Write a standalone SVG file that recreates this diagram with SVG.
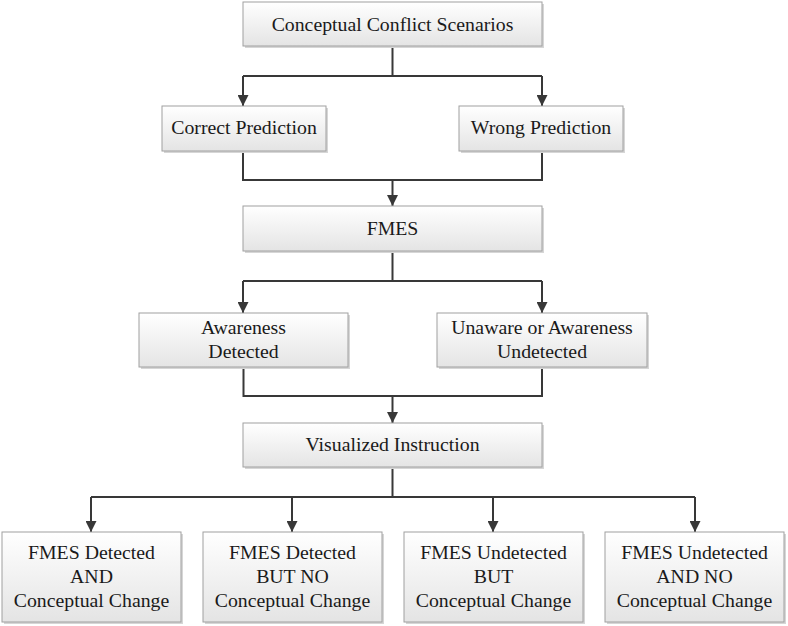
<svg xmlns="http://www.w3.org/2000/svg" width="788" height="626" viewBox="0 0 788 626">
<style>
.box{fill:url(#g);stroke:#a0a0a0;stroke-width:1}
.sh{fill:#d6d6d6}
.t{font-family:"Liberation Serif","Times New Roman",serif;font-size:19.8px;fill:#1a1a1a;text-anchor:middle}
.c{fill:none;stroke:#383838;stroke-width:2}
</style>
<defs>
<linearGradient id="g" x1="0" y1="0" x2="0" y2="1">
<stop offset="0" stop-color="#ffffff"/>
<stop offset="1" stop-color="#e4e4e4"/>
</linearGradient>
<marker id="a" markerWidth="12" markerHeight="11" refX="11" refY="5.5" orient="auto" markerUnits="userSpaceOnUse">
<path d="M0,0 L11,5.5 L0,11 z" fill="#383838"/>
</marker>
</defs>
<rect width="788" height="626" fill="#fff"/>
<g id="connectors">
<path class="c" d="M392.5,46 V76 M243,76 H542" />
<path class="c" d="M243,76 V106" marker-end="url(#a)"/>
<path class="c" d="M542,76 V106" marker-end="url(#a)"/>
<path class="c" d="M243,151 V180 H542 V151"/>
<path class="c" d="M392.5,180 V206" marker-end="url(#a)"/>
<path class="c" d="M392.5,251 V281 M243,281 H542"/>
<path class="c" d="M243,281 V313" marker-end="url(#a)"/>
<path class="c" d="M542,281 V313" marker-end="url(#a)"/>
<path class="c" d="M243.5,367 V396 H542 V367"/>
<path class="c" d="M392.5,396 V423" marker-end="url(#a)"/>
<path class="c" d="M392.5,467 V497 M91,497 H695"/>
<path class="c" d="M91,497 V532" marker-end="url(#a)"/>
<path class="c" d="M292,497 V532" marker-end="url(#a)"/>
<path class="c" d="M493,497 V532" marker-end="url(#a)"/>
<path class="c" d="M695,497 V532" marker-end="url(#a)"/>
</g>
<g id="n1"><rect class="sh" x="245" y="4" width="299" height="44"/><rect class="box" x="243" y="2" width="299" height="44"/><text class="t" x="392.5" y="30.5">Conceptual Conflict Scenarios</text></g>
<g id="n2"><rect class="sh" x="164" y="108" width="164" height="45"/><rect class="box" x="162" y="106" width="164" height="45"/><text class="t" x="244" y="134">Correct Prediction</text></g>
<g id="n3"><rect class="sh" x="461" y="108" width="164" height="45"/><rect class="box" x="459" y="106" width="164" height="45"/><text class="t" x="541" y="134">Wrong Prediction</text></g>
<g id="n4"><rect class="sh" x="245" y="208" width="299" height="45"/><rect class="box" x="243" y="206" width="299" height="45"/><text class="t" x="392.5" y="235">FMES</text></g>
<g id="n5"><rect class="sh" x="141" y="315" width="209" height="54"/><rect class="box" x="139" y="313" width="209" height="54"/><text class="t" x="243.5" y="333.5">Awareness</text><text class="t" x="243.5" y="357.5">Detected</text></g>
<g id="n6"><rect class="sh" x="439" y="315" width="210" height="54"/><rect class="box" x="437" y="313" width="210" height="54"/><text class="t" x="542" y="333.5">Unaware or Awareness</text><text class="t" x="542" y="357.5">Undetected</text></g>
<g id="n7"><rect class="sh" x="245" y="425" width="299" height="44"/><rect class="box" x="243" y="423" width="299" height="44"/><text class="t" x="392.5" y="451">Visualized Instruction</text></g>
<g id="n8"><rect class="sh" x="4" y="534" width="179" height="90"/><rect class="box" x="2" y="532" width="179" height="90"/><text class="t" x="91.5" y="559">FMES Detected</text><text class="t" x="91.5" y="583">AND</text><text class="t" x="91.5" y="607">Conceptual Change</text></g>
<g id="n9"><rect class="sh" x="205" y="534" width="179" height="90"/><rect class="box" x="203" y="532" width="179" height="90"/><text class="t" x="292.5" y="559">FMES Detected</text><text class="t" x="292.5" y="583">BUT NO</text><text class="t" x="292.5" y="607">Conceptual Change</text></g>
<g id="n10"><rect class="sh" x="406" y="534" width="179" height="90"/><rect class="box" x="404" y="532" width="179" height="90"/><text class="t" x="493.5" y="559">FMES Undetected</text><text class="t" x="493.5" y="583">BUT</text><text class="t" x="493.5" y="607">Conceptual Change</text></g>
<g id="n11"><rect class="sh" x="607" y="534" width="179" height="90"/><rect class="box" x="605" y="532" width="179" height="90"/><text class="t" x="694.5" y="559">FMES Undetected</text><text class="t" x="694.5" y="583">AND NO</text><text class="t" x="694.5" y="607">Conceptual Change</text></g>
</svg>
